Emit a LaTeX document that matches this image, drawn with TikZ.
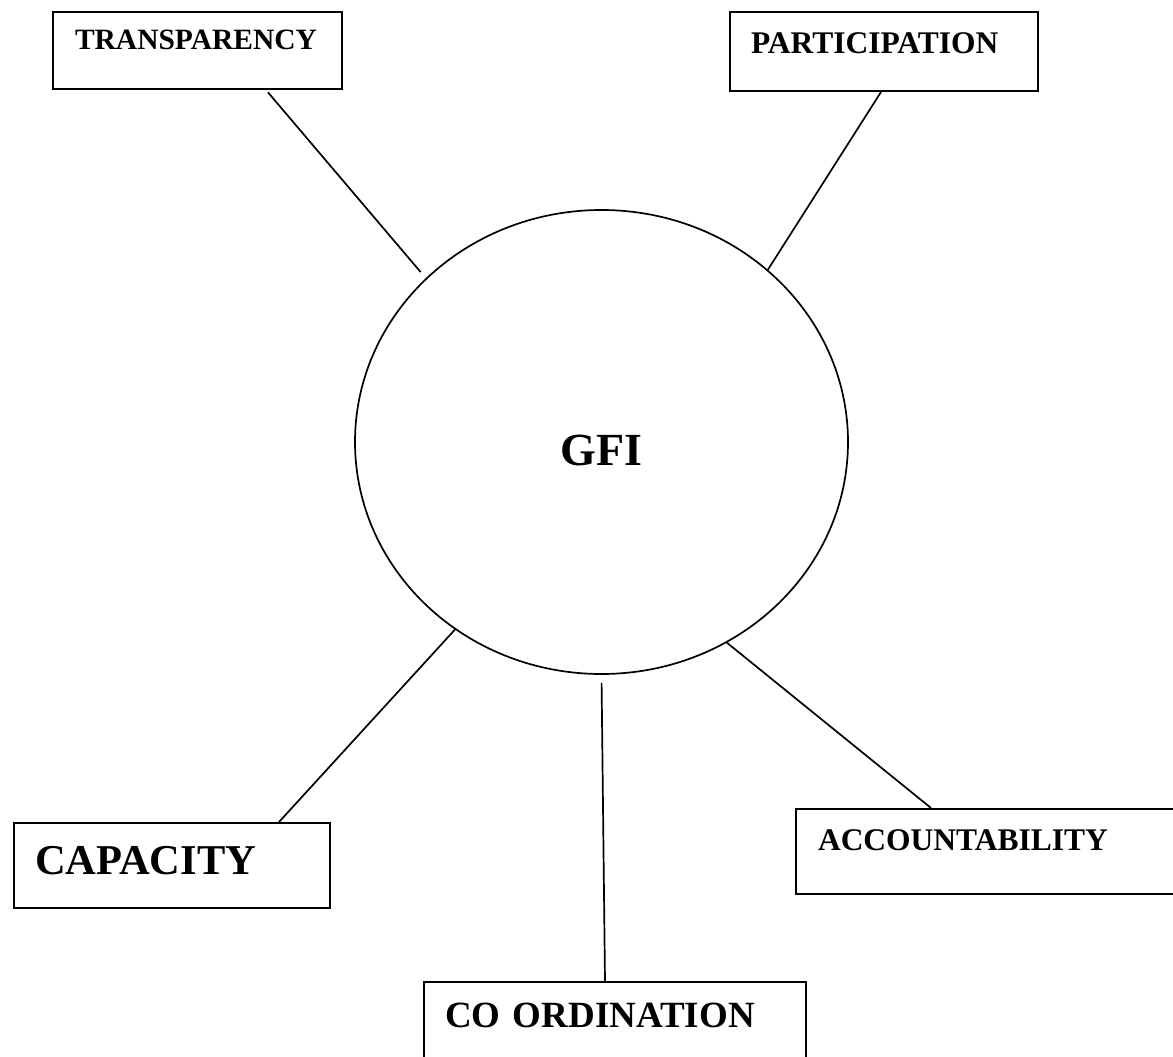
\documentclass[tikz,border=0pt]{standalone}
\usepackage{fontspec}
\setmainfont{Liberation Serif}
\usetikzlibrary{shapes.geometric}

\begin{document}
\begin{tikzpicture}[
  x=1pt, y=-1pt,
  labelbox/.style={draw, line width=2pt, rectangle, anchor=north west,
    inner ysep=0pt, inner xsep=21pt, align=left,
    font=\bfseries\fontsize{#1}{#1}\selectfont},
  link/.style={line width=1.7pt},
]

  \useasboundingbox (0,0) rectangle (1173,1057);

  \node[ellipse, draw, line width=1.7pt, minimum width=493pt, minimum height=464pt,
    inner sep=0pt, text height=47pt, text depth=0pt,
    font=\bfseries\fontsize{46}{46}\selectfont] (gfi) at (601.5,442) {GFI};

  \node[labelbox=29.5, inner xsep=22pt, text width=245pt, text height=38pt, text depth=39pt]
    (transparency) at (52,11) {TRANSPARENCY};
  \node[labelbox=31.5, text width=266pt, text height=42pt, text depth=37pt]
    (participation) at (729,11) {PARTICIPATION};
  \node[labelbox=42.5, text width=274pt, text height=51pt, text depth=34pt]
    (capacity) at (13,822) {CAPACITY};
  \node[labelbox=31.5, inner xsep=22pt, text width=376pt, text height=41pt, text depth=44pt]
    (accountability) at (795,808) {ACCOUNTABILITY};
  \node[labelbox=37, text width=340pt, text height=45pt, text depth=75pt]
    (coordination) at (423,981) {CO ORDINATION};

  \draw[link, shorten <=3pt, shorten >=8pt] ([xshift=68.5pt]transparency.south) -- (gfi.137);
  \draw[link] ([xshift=-3pt]participation.south) -- (gfi.46);
  \draw[link] ([xshift=107pt]capacity.north) -- (gfi.232);
  \draw[link] ([xshift=136pt]accountability.north west) -- (gfi.302);
  \draw[link, shorten >=8pt] ([xshift=182pt]coordination.north west) -- (gfi.south);

\end{tikzpicture}
\end{document}
